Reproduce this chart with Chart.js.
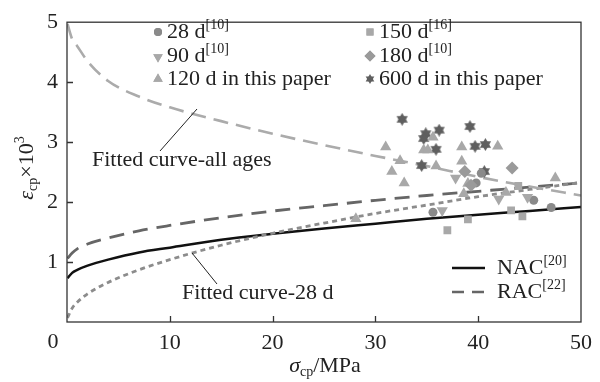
<!DOCTYPE html>
<html>
<head>
<meta charset="utf-8">
<script src="https://cdn.jsdelivr.net/npm/chart.js@4/dist/chart.umd.min.js"></script>
<style>
  html, body { margin: 0; padding: 0; background: #fff; }
</style>
</head>
<body>
<canvas id="chart" width="600" height="382"></canvas>
<script>
// curves
const curveX = [0.05, 0.5, 1, 2, 4, 7, 10, 15, 20, 25, 30, 35, 40, 45, 50];
const nacY = [0.73, 0.82, 0.87, 0.94, 1.04, 1.16, 1.24, 1.37, 1.47, 1.56, 1.64, 1.72, 1.79, 1.85, 1.92];
const racY = [1.06, 1.15, 1.22, 1.30, 1.40, 1.52, 1.61, 1.74, 1.85, 1.94, 2.03, 2.11, 2.18, 2.25, 2.32];
const fit28Y = [0.07, 0.23, 0.33, 0.47, 0.66, 0.87, 1.04, 1.28, 1.48, 1.65, 1.81, 1.95, 2.09, 2.21, 2.33];
const fitAllY = [4.97, 4.72, 4.6, 4.35, 4.02, 3.76, 3.58, 3.35, 3.14, 2.95, 2.77, 2.6, 2.42, 2.26, 2.11];

// test points
const d28X = [35.6, 40.3, 39.8, 45.4, 47.1];
const d28Y = [1.83, 2.48, 2.32, 2.03, 1.91];
const d90X = [37.8, 36.5, 42.0, 44.8];
const d90Y = [2.40, 1.86, 2.05, 2.08];
const d120X = [31.0, 35.6, 34.7, 35.1, 38.4, 41.9, 32.4, 35.9, 38.4, 31.6, 32.8, 39.0, 38.6, 42.7, 28.1, 47.5];
const d120Y = [2.92, 3.08, 2.87, 2.87, 2.92, 2.93, 2.69, 2.60, 2.68, 2.51, 2.32, 2.31, 2.14, 2.16, 1.72, 2.40];
const d150X = [37.0, 39.0, 43.2, 44.3, 43.9];
const d150Y = [1.53, 1.71, 1.86, 1.76, 2.27];
const d180X = [43.3, 38.7, 39.3];
const d180Y = [2.57, 2.51, 2.28];
const d600X = [32.6, 34.9, 36.2, 34.7, 39.2, 35.9, 39.7, 40.7, 34.5, 40.6];
const d600Y = [3.38, 3.14, 3.20, 3.06, 3.26, 2.88, 2.93, 2.96, 2.61, 2.51];

const xTicks = [0, 10, 20, 30, 40, 50];
const yTicks = [0, 1, 2, 3, 4, 5];

const FONT = '"Liberation Serif", "Times New Roman", serif';

function pts(xs, ys) {
  return xs.map((x, i) => ({ x: x, y: ys[i] }));
}

// six-pointed star marker
function makeStar(size, color) {
  const c = document.createElement('canvas');
  c.width = size; c.height = size;
  const g = c.getContext('2d');
  const r = size / 2, cx = size / 2, cy = size / 2;
  g.fillStyle = color;
  [-Math.PI / 2, Math.PI / 2].forEach(a0 => {
    g.beginPath();
    for (let k = 0; k < 3; k++) {
      const a = a0 + k * 2 * Math.PI / 3;
      const px = cx + r * Math.cos(a), py = cy + r * Math.sin(a);
      if (k === 0) g.moveTo(px, py); else g.lineTo(px, py);
    }
    g.closePath();
    g.fill();
  });
  return c;
}
const starImg = makeStar(13, '#5f5f5f');
const starSmall = makeStar(10, '#5f5f5f');

// text with italic / sub / sup pieces
function richWidth(ctx, parts, size) {
  let w = 0;
  parts.forEach(p => {
    ctx.font = fontFor(p[1], size);
    w += ctx.measureText(p[0]).width;
  });
  return w;
}
function fontFor(kind, size) {
  if (kind === 'sub' || kind === 'sup') return Math.round(size * 0.62) + 'px ' + FONT;
  if (kind === 'i') return 'italic ' + size + 'px ' + FONT;
  return size + 'px ' + FONT;
}
function drawRich(ctx, parts, x, y, size, align) {
  let cx = x;
  if (align === 'center') cx = x - richWidth(ctx, parts, size) / 2;
  ctx.textAlign = 'left';
  ctx.textBaseline = 'middle';
  parts.forEach(p => {
    ctx.font = fontFor(p[1], size);
    let dy = 0;
    if (p[1] === 'sup') dy = -size * 0.32;
    if (p[1] === 'sub') dy = size * 0.28;
    ctx.fillText(p[0], cx, y + dy);
    cx += ctx.measureText(p[0]).width;
  });
}

const decor = {
  id: 'decor',
  afterDraw(chart) {
    const ctx = chart.ctx;
    const a = chart.chartArea;
    const xs = chart.scales.x, ys = chart.scales.y;
    ctx.save();

    // frame and inward ticks
    ctx.strokeStyle = '#333';
    ctx.lineWidth = 1.3;
    ctx.strokeRect(a.left, a.top, a.right - a.left, a.bottom - a.top);
    ctx.beginPath();
    xTicks.slice(1, -1).forEach(v => {
      const px = Math.round(xs.getPixelForValue(v)) + 0.5;
      ctx.moveTo(px, a.bottom); ctx.lineTo(px, a.bottom - 6);
    });
    yTicks.slice(1, -1).forEach(v => {
      const py = Math.round(ys.getPixelForValue(v)) + 0.5;
      ctx.moveTo(a.left, py); ctx.lineTo(a.left + 6, py);
    });
    ctx.stroke();

    ctx.fillStyle = '#222';
    ctx.font = '22px ' + FONT;
    ctx.textAlign = 'center';
    ctx.textBaseline = 'middle';
    ctx.fillText('0', 53, 342);

    // axis titles
    drawRich(ctx, [['σ', 'i'], ['cp', 'sub'], ['/MPa', 'n']], 325, 366, 22, 'center');
    ctx.save();
    ctx.translate(27, 168);
    ctx.rotate(-Math.PI / 2);
    drawRich(ctx, [['ε', 'i'], ['cp', 'sub'], ['×10', 'n'], ['3', 'sup']], 0, 0, 22, 'center');
    ctx.restore();

    // point legend
    const rows = [32, 56, 79];
    const col1 = 158, col2 = 370;
    const mk = (style, x, y, color, rot, r) => {
      ctx.fillStyle = color;
      ctx.strokeStyle = color;
      Chart.helpers.drawPoint(ctx, { pointStyle: style, rotation: rot || 0, radius: r, borderWidth: 0 }, x, y);
      ctx.fill();
    };
    mk('circle', col1, rows[0], '#8a8a8a', 0, 4);
    mk('triangle', col1, rows[1] + 1, '#a8a8a8', 180, 5.5);
    mk('triangle', col1, rows[2], '#a8a8a8', 0, 5.5);
    mk('rect', col2, rows[0], '#a8a8a8', 0, 5);
    mk('rectRot', col2, rows[1], '#9a9a9a', 0, 5.5);
    ctx.drawImage(starSmall, col2 - 5, rows[2] - 5);

    ctx.fillStyle = '#222';
    drawRich(ctx, [['28 d', 'n'], ['[10]', 'sup']], col1 + 9, rows[0], 22);
    drawRich(ctx, [['90 d', 'n'], ['[10]', 'sup']], col1 + 9, rows[1], 22);
    drawRich(ctx, [['120 d in this paper', 'n']], col1 + 9, rows[2], 22);
    drawRich(ctx, [['150 d', 'n'], ['[16]', 'sup']], col2 + 9, rows[0], 22);
    drawRich(ctx, [['180 d', 'n'], ['[10]', 'sup']], col2 + 9, rows[1], 22);
    drawRich(ctx, [['600 d in this paper', 'n']], col2 + 9, rows[2], 22);

    // line legend
    ctx.lineWidth = 2.5;
    ctx.strokeStyle = '#111';
    ctx.setLineDash([]);
    ctx.beginPath(); ctx.moveTo(452, 268); ctx.lineTo(485, 268); ctx.stroke();
    ctx.strokeStyle = '#666';
    ctx.setLineDash([12, 8]);
    ctx.beginPath(); ctx.moveTo(452, 292); ctx.lineTo(485, 292); ctx.stroke();
    ctx.setLineDash([]);
    drawRich(ctx, [['NAC', 'n'], ['[20]', 'sup']], 497, 268, 22);
    drawRich(ctx, [['RAC', 'n'], ['[22]', 'sup']], 497, 292, 22);

    // curve labels and leaders
    ctx.strokeStyle = '#222';
    ctx.lineWidth = 1;
    ctx.beginPath();
    ctx.moveTo(160, 151); ctx.lineTo(197, 109);
    ctx.moveTo(217, 284); ctx.lineTo(192, 253);
    ctx.stroke();
    drawRich(ctx, [['Fitted curve-all ages', 'n']], 92, 160, 22);
    drawRich(ctx, [['Fitted curve-28 d', 'n']], 182, 293, 22);

    ctx.restore();
  }
};

const lineDs = (label, ys, color, width, dash) => ({
  type: 'line',
  label: label,
  data: pts(curveX, ys),
  borderColor: color,
  borderWidth: width,
  borderDash: dash,
  pointRadius: 0,
  cubicInterpolationMode: 'monotone',
  fill: false,
  order: 2
});

const scatterDs = (label, xs, ys, style, color, r, rot) => ({
  type: 'scatter',
  label: label,
  data: pts(xs, ys),
  pointStyle: style,
  pointRotation: rot || 0,
  pointRadius: r,
  backgroundColor: color,
  borderColor: color,
  borderWidth: 0,
  order: 1
});

new Chart(document.getElementById('chart'), {
  data: {
    datasets: [
      lineDs('Fitted curve-all ages', fitAllY, '#ababab', 2.6, [15, 8]),
      lineDs('Fitted curve-28 d', fit28Y, '#8c8c8c', 2.8, [5, 4]),
      lineDs('RAC', racY, '#666666', 2.8, [15, 9]),
      lineDs('NAC', nacY, '#111111', 2.5, []),
      scatterDs('150 d', d150X, d150Y, 'rect', '#a8a8a8', 5.5),
      scatterDs('180 d', d180X, d180Y, 'rectRot', '#9a9a9a', 6.5),
      scatterDs('90 d', d90X, d90Y, 'triangle', '#a8a8a8', 6.5, 180),
      scatterDs('120 d', d120X, d120Y, 'triangle', '#a8a8a8', 6.5),
      scatterDs('28 d', d28X, d28Y, 'circle', '#8a8a8a', 4.5),
      scatterDs('600 d', d600X, d600Y, starImg, '#5f5f5f', 6.5)
    ]
  },
  options: {
    responsive: false,
    animation: false,
    layout: { padding: { top: 16, right: 18, left: 0, bottom: 0 } },
    plugins: {
      legend: { display: false },
      tooltip: { enabled: false }
    },
    scales: {
      x: {
        type: 'linear',
        min: 0,
        max: 50,
        grid: { display: false, drawTicks: false },
        border: { display: false },
        afterBuildTicks: s => { s.ticks = xTicks.map(v => ({ value: v })); },
        afterFit: s => { s.height = 60; },
        ticks: {
          padding: 8,
          color: '#222',
          font: { family: FONT, size: 22 },
          callback: v => (v === 0 ? '' : v)
        }
      },
      y: {
        type: 'linear',
        min: 0,
        max: 5,
        grid: { display: false, drawTicks: false },
        border: { display: false },
        afterBuildTicks: s => { s.ticks = yTicks.map(v => ({ value: v })); },
        afterFit: s => { s.width = 67; },
        ticks: {
          padding: 9,
          color: '#222',
          font: { family: FONT, size: 22 },
          callback: v => (v === 0 ? '' : v)
        }
      }
    }
  },
  plugins: [decor]
});
</script>
</body>
</html>
